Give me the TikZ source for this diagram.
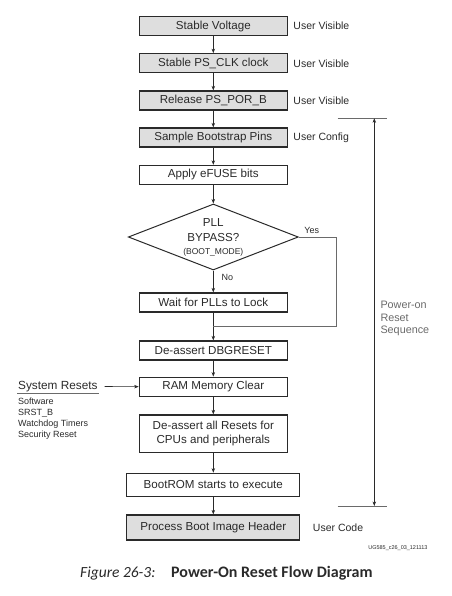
\documentclass[tikz,border=0pt]{standalone}
\usepackage{fontspec}
\setmainfont{Liberation Sans}
\newfontfamily\capfont{Carlito}
\usepackage{tikz}
\usetikzlibrary{arrows.meta,calc,positioning,shapes.geometric}
\definecolor{boxgray}{HTML}{DEDEDE}
\definecolor{inkgray}{HTML}{2A2A2A}
\definecolor{seqgray}{HTML}{6A6A6A}

\begin{document}
\begin{tikzpicture}[x=1pt,y=-1pt,
  stepbox/.style={draw=inkgray,line width=1.3pt,text=inkgray,minimum width=148pt,minimum height=19pt,inner sep=0pt,font=\fontsize{11.6}{14.3}\selectfont},
  userbox/.style={stepbox,fill=boxgray},
  widebox/.style={stepbox,minimum width=173pt},
  sidetext/.style={text=inkgray,font=\fontsize{10.5}{12}\selectfont},
  flow/.style={-{Stealth[length=4.5pt,width=3.5pt]},line width=0.6pt,inkgray}]
\useasboundingbox (0,0) rectangle (451,596);
% main column
\node[userbox] (volt) at (213.3,26.2) {Stable Voltage};
\node[userbox] (clk) at (213.3,63.3) {Stable PS\_CLK clock};
\node[userbox] (por) at (213.3,100.5) {Release PS\_POR\_B};
\node[userbox] (pins) at (213.3,137.5) {Sample Bootstrap Pins};
\node[stepbox] (efuse) at (213.3,175) {Apply eFUSE bits};
\node[draw=inkgray,line width=1pt,shape=diamond,aspect=2.58,inner sep=0pt,minimum width=170pt,minimum height=66pt,align=center,text=inkgray,font=\fontsize{11.6}{14}\selectfont] (bypass) at (213.3,237)
  {PLL\\[1pt]BYPASS?\\[-1pt]{\fontsize{8.5}{10}\selectfont (BOOT\_MODE)}};
\node[stepbox] (wait) at (213.3,302.5) {Wait for PLLs to Lock};
\node[stepbox] (dbg) at (213.3,350.5) {De-assert DBGRESET};
\node[stepbox] (ram) at (213.3,386.7) {RAM Memory Clear};
\node[stepbox,minimum height=37.7pt,align=center] (rst) at (213.3,433.8) {De-assert all Resets for\\CPUs and peripherals};
\node[widebox,minimum height=23.4pt] (boot) at (213.3,485) {BootROM starts to execute};
\node[widebox,fill=boxgray,minimum height=25pt] (hdr) at (213.3,527.5) {Process Boot Image Header};
% labels on the right
\node[right=2pt of volt,sidetext] (vis1) {User Visible};
\node[right=2pt of clk,sidetext] (vis2) {User Visible};
\node[right=2pt of por,sidetext] (vis3) {User Visible};
\node[right=2pt of pins,sidetext] (cfg) {User Config};
\node[right=9pt of hdr,sidetext] (code) {User Code};
\foreach \a/\b in {volt/clk,clk/por,por/pins,pins/efuse,efuse/bypass,wait/dbg,dbg/ram,ram/rst,rst/boot,boot/hdr}
  \draw[flow] (\a) -- (\b);
\draw[flow] (bypass.south) -- node[pos=0.3,anchor=west,xshift=8pt,inner sep=0pt,text=inkgray,font=\fontsize{9}{10}\selectfont] (nolbl) {No} (wait.north);
\coordinate (join) at ($(wait.south)!0.5!(dbg.north)$);
\draw[line width=0.6pt,seqgray] (bypass.east) -- node[pos=0.35,above,text=inkgray,font=\fontsize{9}{10}\selectfont] (yeslbl) {Yes} ++(37,0) |- (join);
% system resets
\node[anchor=west,inner sep=1pt,text=inkgray,font=\fontsize{11.8}{13}\selectfont] (sysres) at (17,386.5) {System Resets};
\draw[line width=0.6pt,seqgray] (sysres.south west) -- (sysres.south east);
\draw[flow] ([xshift=6pt]sysres.east) -- (ram.west);
\node[anchor=north west,align=left,inner sep=0pt,text=inkgray,font=\fontsize{9}{11.2}\selectfont] (srclist) at (18,397.5) {Software\\SRST\_B\\Watchdog Timers\\Security Reset};
% power-on reset sequence bracket
\coordinate (seqtop) at (374.3,118.3);
\coordinate (seqbot) at (374.3,506);
\draw[line width=0.8pt,seqgray] (seqtop) ++(-36.6,0) -- ++(49,0);
\draw[line width=0.8pt,seqgray] (seqbot) ++(-36.6,0) -- ++(49,0);
\draw[{Stealth[length=4.5pt,width=3.5pt]}-{Stealth[length=4.5pt,width=3.5pt]},line width=0.6pt,inkgray] (seqtop) -- (seqbot);
\node[anchor=west,align=left,text=seqgray,font=\fontsize{10.8}{12.5}\selectfont] (seq) at (377,318.5) {Power-on\\Reset\\Sequence};
% caption
\node[anchor=east,text=inkgray,font=\fontsize{5.5}{6}\selectfont] (ugid) at (431,548.3) {UG585\_c26\_03\_121113};
\node[anchor=west,inner sep=0pt,text=inkgray,font=\capfont\itshape\fontsize{15.5}{18}\selectfont] (figno) at (80,573.5) {Figure 26-3:};
\node[anchor=west,inner sep=0pt,text=inkgray,font=\capfont\bfseries\fontsize{16}{18}\selectfont] (figtitle) at (171,573.5) {Power-On Reset Flow Diagram};
\end{tikzpicture}
\end{document}
